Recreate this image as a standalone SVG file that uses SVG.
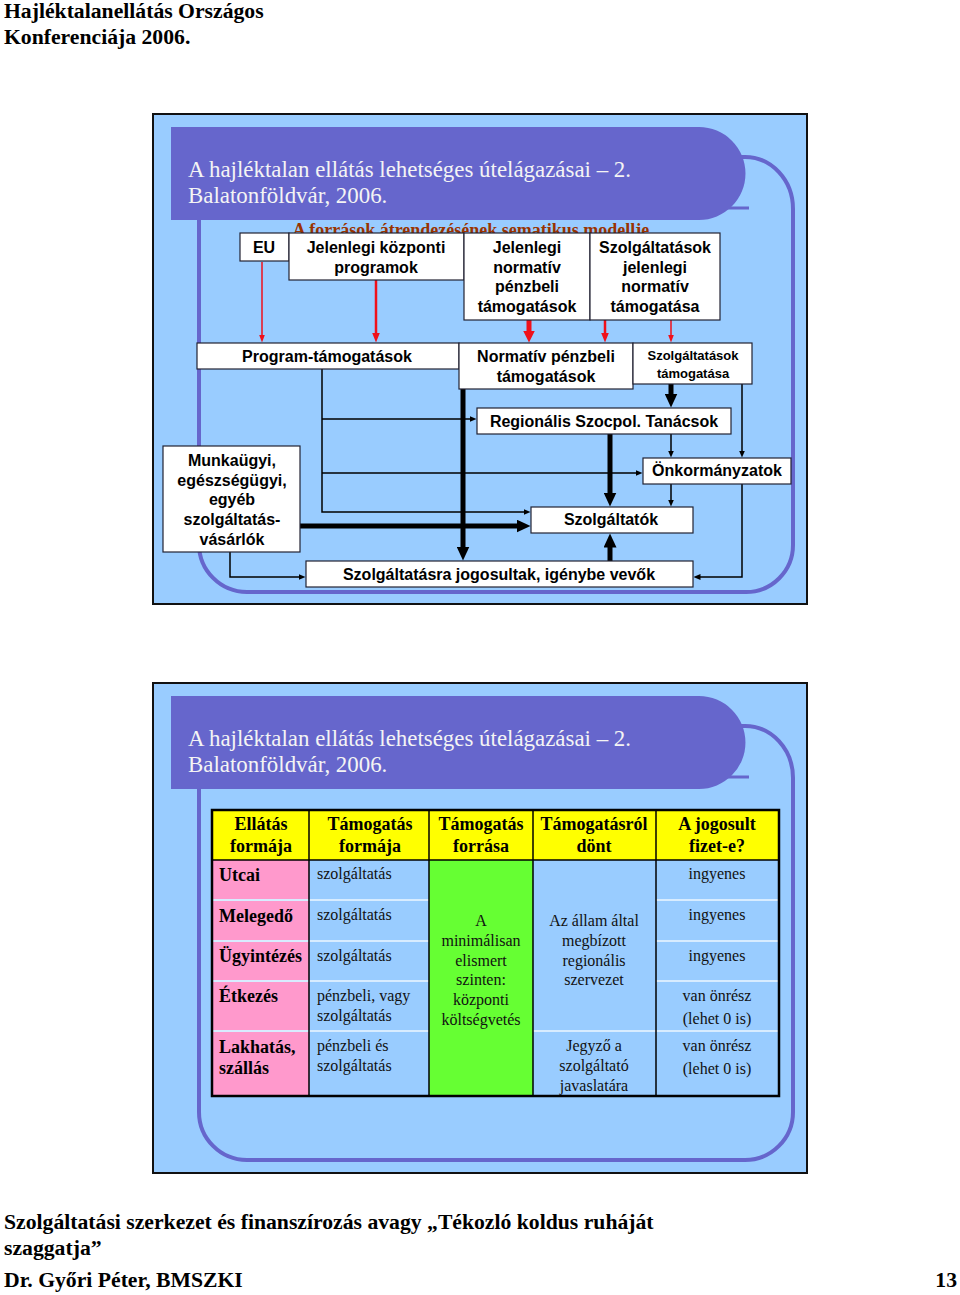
<svg xmlns="http://www.w3.org/2000/svg" width="960" height="1295" viewBox="0 0 960 1295">
<style>
.hdr{font-family:"Liberation Serif",serif;font-weight:bold;font-size:21.7px;fill:#000}
.frame{fill:#99CCFF;stroke:#111;stroke-width:2}
.banner{fill:#6666CC}
.deco{fill:none;stroke:#6666CC;stroke-width:4}
.ttl{font-family:"Liberation Serif",serif;font-size:22.9px;fill:#F4F4F4}
.sub{font-family:"Liberation Serif",serif;font-weight:bold;font-size:18px;fill:#993300}
.box{fill:#fff;stroke:#223;stroke-width:1.2}
.bt{font-family:"Liberation Sans",Arial,sans-serif;font-weight:bold;font-size:16px;fill:#000;text-anchor:middle}
.bts{font-family:"Liberation Sans",Arial,sans-serif;font-weight:bold;font-size:13px;fill:#000;text-anchor:middle}
.thin{fill:none;stroke:#000;stroke-width:1.5;marker-end:url(#ahThin)}
.thick{fill:none;stroke:#000;stroke-width:5;marker-end:url(#ahThick)}
.red1{fill:none;stroke:#F0101A;stroke-width:1.5;marker-end:url(#ahRedS)}
.red2{fill:none;stroke:#F0101A;stroke-width:2.5;marker-end:url(#ahRedM)}
.red3{fill:none;stroke:#F0101A;stroke-width:5;marker-end:url(#ahRedL)}
.th{font-family:"Liberation Serif",serif;font-weight:bold;font-size:18px;fill:#000;text-anchor:middle}
.tb{font-family:"Liberation Serif",serif;font-weight:bold;font-size:18px;fill:#000}
.td{font-family:"Liberation Serif",serif;font-size:16px;fill:#111}
.tdc{font-family:"Liberation Serif",serif;font-size:16px;fill:#111;text-anchor:middle}
.yel{fill:#FFFF00}
.pink{fill:#FF99CC}
.blue{fill:#99CCFF}
.green{fill:#66FF33}
.dark{stroke:#000;stroke-width:1.5}
.light{stroke:#D8ECFF;stroke-width:2}
</style>
<defs>
<marker id="ahThin" viewBox="0 0 7 6" markerWidth="7" markerHeight="6" refX="0.5" refY="3" orient="auto" markerUnits="userSpaceOnUse"><path d="M0,0 L7,3 L0,6 Z" fill="#000"/></marker>
<marker id="ahThick" viewBox="0 0 14 13" markerWidth="14" markerHeight="13" refX="0.5" refY="6.5" orient="auto" markerUnits="userSpaceOnUse"><path d="M0,0 L14,6.5 L0,13 Z" fill="#000"/></marker>
<marker id="ahRedS" viewBox="0 0 8 6" markerWidth="8" markerHeight="6" refX="0.5" refY="3" orient="auto" markerUnits="userSpaceOnUse"><path d="M0,0 L8,3 L0,6 Z" fill="#F0101A"/></marker>
<marker id="ahRedM" viewBox="0 0 10 8" markerWidth="10" markerHeight="8" refX="0.5" refY="4" orient="auto" markerUnits="userSpaceOnUse"><path d="M0,0 L10,4 L0,8 Z" fill="#F0101A"/></marker>
<marker id="ahRedL" viewBox="0 0 12 12" markerWidth="12" markerHeight="12" refX="0.5" refY="6" orient="auto" markerUnits="userSpaceOnUse"><path d="M0,0 L12,6 L0,12 Z" fill="#F0101A"/></marker>
</defs>
<rect width="960" height="1295" fill="#fff"/>
<g id="page-header">
<text class="hdr" x="4" y="18">Hajléktalanellátás Országos</text>
<text class="hdr" x="4" y="44">Konferenciája 2006.</text>
</g>

<!-- Slide 1 -->
<g id="slide1">
<rect class="frame" x="153" y="114" width="654" height="490"/>
<path class="deco" d="M715 157 H745 A48 52 0 0 1 793 209 V545 A47 47 0 0 1 746 592 H247 A48 48 0 0 1 199 544 V218"/>
<path class="banner" d="M171 127 H699 A46.5 46.5 0 0 1 699 220 H171 Z"/>
<line x1="700" y1="208" x2="749" y2="208" stroke="#6666CC" stroke-width="3"/>
<text class="ttl" x="188" y="177">A hajléktalan ellátás lehetséges útelágazásai – 2.</text>
<text class="ttl" x="188" y="203">Balatonföldvár, 2006.</text>
<text class="sub" x="471" y="236" text-anchor="middle">A források átrendezésének sematikus modellje</text>
</g>

<g id="connectors1">
<path class="red1" d="M262 262 V335"/>
<path class="red2" d="M376 280 V333"/>
<path class="red3" d="M529 320 V331"/>
<path class="red2" d="M605 320 V333"/>
<path class="red1" d="M671 320 V335"/>
<path class="thick" d="M671 384 V394"/>
<path class="thick" d="M463 389 V547"/>
<path class="thick" d="M610 434 V493"/>
<path class="thick" d="M610 561 V547"/>
<path class="thick" d="M300 526 H517"/>
<path class="thin" d="M322 369 V512 H524"/>
<path class="thin" d="M322 419 H470"/>
<path class="thin" d="M322 473 H636"/>
<path class="thin" d="M671 434 V451"/>
<path class="thin" d="M742 384 V451"/>
<path class="thin" d="M671 484 V500"/>
<path class="thin" d="M742 484 V577 H700"/>
<path class="thin" d="M230 552 V577 H299"/>
</g>

<g id="n-eu"><rect class="box" x="240" y="233" width="49" height="28"/><text class="bt" x="264" y="253">EU</text></g>
<g id="n-kozponti"><rect class="box" x="289" y="233" width="175" height="47"/><text class="bt" x="376" y="253">Jelenlegi központi</text><text class="bt" x="376" y="273">programok</text></g>
<g id="n-normativ"><rect class="box" x="464" y="233" width="126" height="87"/><text class="bt" x="527" y="253">Jelenlegi</text><text class="bt" x="527" y="273">normatív</text><text class="bt" x="527" y="292">pénzbeli</text><text class="bt" x="527" y="312">támogatások</text></g>
<g id="n-szolgjel"><rect class="box" x="590" y="233" width="130" height="87"/><text class="bt" x="655" y="253">Szolgáltatások</text><text class="bt" x="655" y="273">jelenlegi</text><text class="bt" x="655" y="292">normatív</text><text class="bt" x="655" y="312">támogatása</text></g>
<g id="n-program"><rect class="box" x="197" y="343" width="262" height="26"/><text class="bt" x="327" y="362">Program-támogatások</text></g>
<g id="n-normpenz"><rect class="box" x="459" y="343" width="174" height="46"/><text class="bt" x="546" y="362">Normatív pénzbeli</text><text class="bt" x="546" y="382">támogatások</text></g>
<g id="n-szolgtam"><rect class="box" x="633" y="343" width="119" height="41"/><text class="bts" x="693" y="360">Szolgáltatások</text><text class="bts" x="693" y="378">támogatása</text></g>
<g id="n-regionalis"><rect class="box" x="477" y="408" width="254" height="26"/><text class="bt" x="604" y="427">Regionális Szocpol. Tanácsok</text></g>
<g id="n-onkorm"><rect class="box" x="643" y="458" width="148" height="26"/><text class="bt" x="717" y="476">Önkormányzatok</text></g>
<g id="n-szolgaltatok"><rect class="box" x="531" y="507" width="162" height="26"/><text class="bt" x="611" y="525">Szolgáltatók</text></g>
<g id="n-munkaugyi"><rect class="box" x="163" y="446" width="137" height="106"/><text class="bt" x="232" y="466">Munkaügyi,</text><text class="bt" x="232" y="486">egészségügyi,</text><text class="bt" x="232" y="505">egyéb</text><text class="bt" x="232" y="525">szolgáltatás-</text><text class="bt" x="232" y="545">vásárlók</text></g>
<g id="n-jogosultak"><rect class="box" x="306" y="561" width="387" height="26"/><text class="bt" x="499" y="580">Szolgáltatásra jogosultak, igénybe vevők</text></g>

<!-- Slide 2 -->
<g id="slide2">
<rect class="frame" x="153" y="683" width="654" height="490"/>
<path class="deco" d="M715 726 H745 A48 52 0 0 1 793 778 V1112 A48 48 0 0 1 745 1160 H247 A48 48 0 0 1 199 1112 V787"/>
<path class="banner" d="M171 696 H699 A46.5 46.5 0 0 1 699 789 H171 Z"/>
<line x1="700" y1="777" x2="749" y2="777" stroke="#6666CC" stroke-width="3"/>
<text class="ttl" x="188" y="746">A hajléktalan ellátás lehetséges útelágazásai – 2.</text>
<text class="ttl" x="188" y="772">Balatonföldvár, 2006.</text>
</g>

<g id="table">
<rect class="yel" x="212" y="810" width="567" height="50"/>
<rect class="pink" x="212" y="860" width="97" height="236"/>
<rect class="blue" x="309" y="860" width="120" height="236"/>
<rect class="green" x="429" y="860" width="104" height="236"/>
<rect class="blue" x="533" y="860" width="246" height="236"/>
<g id="row-lines">
<line class="light" x1="212" y1="900" x2="429" y2="900"/>
<line class="light" x1="212" y1="941" x2="429" y2="941"/>
<line class="light" x1="212" y1="981" x2="429" y2="981"/>
<line class="light" x1="212" y1="1031" x2="429" y2="1031"/>
<line class="light" x1="656" y1="900" x2="779" y2="900"/>
<line class="light" x1="656" y1="941" x2="779" y2="941"/>
<line class="light" x1="656" y1="981" x2="779" y2="981"/>
<line class="light" x1="533" y1="1031" x2="779" y2="1031"/>
<line class="dark" x1="212" y1="860" x2="779" y2="860"/>
<line class="dark" x1="309" y1="810" x2="309" y2="1096"/>
<line class="dark" x1="429" y1="810" x2="429" y2="1096"/>
<line class="dark" x1="533" y1="810" x2="533" y2="1096"/>
<line class="dark" x1="656" y1="810" x2="656" y2="1096"/>
</g>
<rect x="212" y="810" width="567" height="286" fill="none" stroke="#000" stroke-width="2.5"/>
<g id="header-cells">
<text class="th" x="261" y="830">Ellátás</text><text class="th" x="261" y="852">formája</text>
<text class="th" x="370" y="830">Támogatás</text><text class="th" x="370" y="852">formája</text>
<text class="th" x="481" y="830">Támogatás</text><text class="th" x="481" y="852">forrása</text>
<text class="th" x="594" y="830">Támogatásról</text><text class="th" x="594" y="852">dönt</text>
<text class="th" x="717" y="830">A jogosult</text><text class="th" x="717" y="852">fizet-e?</text>
</g>
<g id="col1">
<text class="tb" x="219" y="881">Utcai</text>
<text class="tb" x="219" y="922">Melegedő</text>
<text class="tb" x="219" y="962">Ügyintézés</text>
<text class="tb" x="219" y="1002">Étkezés</text>
<text class="tb" x="219" y="1053">Lakhatás,</text>
<text class="tb" x="219" y="1074">szállás</text>
</g>
<g id="col2">
<text class="td" x="317" y="879">szolgáltatás</text>
<text class="td" x="317" y="920">szolgáltatás</text>
<text class="td" x="317" y="961">szolgáltatás</text>
<text class="td" x="317" y="1001">pénzbeli, vagy</text>
<text class="td" x="317" y="1021">szolgáltatás</text>
<text class="td" x="317" y="1051">pénzbeli és</text>
<text class="td" x="317" y="1071">szolgáltatás</text>
</g>
<g id="col3">
<text class="tdc" x="481" y="926">A</text>
<text class="tdc" x="481" y="946">minimálisan</text>
<text class="tdc" x="481" y="966">elismert</text>
<text class="tdc" x="481" y="985">szinten:</text>
<text class="tdc" x="481" y="1005">központi</text>
<text class="tdc" x="481" y="1025">költségvetés</text>
</g>
<g id="col4">
<text class="tdc" x="594" y="926">Az állam által</text>
<text class="tdc" x="594" y="946">megbízott</text>
<text class="tdc" x="594" y="966">regionális</text>
<text class="tdc" x="594" y="985">szervezet</text>
<text class="tdc" x="594" y="1051">Jegyző a</text>
<text class="tdc" x="594" y="1071">szolgáltató</text>
<text class="tdc" x="594" y="1091">javaslatára</text>
</g>
<g id="col5">
<text class="tdc" x="717" y="879">ingyenes</text>
<text class="tdc" x="717" y="920">ingyenes</text>
<text class="tdc" x="717" y="961">ingyenes</text>
<text class="tdc" x="717" y="1001">van önrész</text>
<text class="tdc" x="717" y="1024">(lehet 0 is)</text>
<text class="tdc" x="717" y="1051">van önrész</text>
<text class="tdc" x="717" y="1074">(lehet 0 is)</text>
</g>
</g>

<g id="footer">
<text class="hdr" x="4" y="1229">Szolgáltatási szerkezet és finanszírozás avagy „Tékozló koldus ruháját</text>
<text class="hdr" x="4" y="1255">szaggatja”</text>
<text class="hdr" x="4" y="1287">Dr. Győri Péter, BMSZKI</text>
<text class="hdr" x="957" y="1287" text-anchor="end">13</text>
</g>
</svg>
